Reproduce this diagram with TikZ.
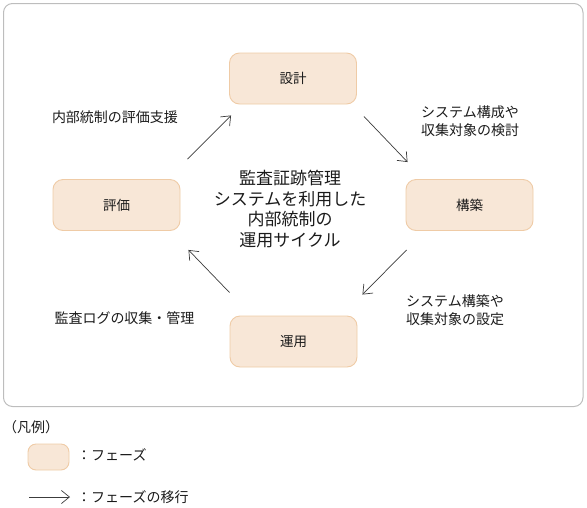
\documentclass[tikz,border=0pt]{standalone}
\usepackage{fontspec}
\setmainfont{Noto Sans CJK JP}
\usetikzlibrary{arrows.meta,calc}
\definecolor{phasefill}{HTML}{F8E7D7}
\definecolor{phaseline}{HTML}{EFCBA6}
\definecolor{framegray}{HTML}{BDBDBD}
\definecolor{txt}{HTML}{1A1A1A}
\tikzset{
  phase/.style={draw=phaseline, fill=phasefill, line width=0.9pt, rounded corners=10pt,
    minimum width=127pt, minimum height=51pt, inner sep=0pt, text=txt,
    font=\fontsize{13.5pt}{15pt}\selectfont},
  lbl/.style={inner sep=0pt, text=txt, font=\fontsize{14pt}{17.5pt}\selectfont},
  flow/.style={draw=txt!85, line width=0.7pt, -{Straight Barb[length=8pt,width=13pt,line width=0.7pt]}}
}
\begin{document}
\begin{tikzpicture}[x=1pt,y=-1pt]
\useasboundingbox (0,0) rectangle (587,507);
% outer frame
\draw[framegray, line width=1pt, rounded corners=9pt] (3.5,3.5) rectangle (583,406.5);
% phases
\node[phase] (sekkei) at (293,78.5) {設計};
\node[phase] (kouchiku) at (469.5,205) {構築};
\node[phase] (unyou) at (293.5,341.5) {運用};
\node[phase] (hyouka) at (116.5,205) {評価};
% center title
\node[inner sep=0pt, text=txt, align=center, font=\fontsize{17pt}{20.8pt}\selectfont] (title) at (290,209)
  {監査証跡管理\\システムを利用した\\内部統制の\\運用サイクル};
% arrow end points
\coordinate (a1s) at ($(hyouka.north east)+(7,-20)$);
\coordinate (a1e) at ($(sekkei.south west)+(2,11)$);
\coordinate (a2s) at ($(sekkei.south east)+(7,12)$);
\coordinate (a2e) at ($(kouchiku.north west)+(2,-17)$);
\coordinate (a3s) at ($(kouchiku.south west)+(1,19)$);
\coordinate (a3e) at ($(unyou.north east)+(5,-21)$);
\coordinate (a4s) at ($(unyou.north west)+(0,-23)$);
\coordinate (a4e) at ($(hyouka.south east)+(8,19)$);
\draw[flow] (a1s) -- (a1e);
\draw[flow] (a2s) -- (a2e);
\draw[flow] (a3s) -- (a3e);
\draw[flow] (a4s) -- (a4e);
% labels
\node[lbl] (l1) at (115,117) {内部統制の評価支援};
\node[lbl, anchor=west, align=left] (l2) at (421,121) {システム構成や\\収集対象の検討};
\node[lbl, anchor=west, align=left] (l3) at (406,310) {システム構築や\\収集対象の設定};
\node[lbl] (l4) at (124.5,318) {監査ログの収集・管理};
% legend
\node[lbl, anchor=west] (leg) at (3,427) {（凡例）};
\node[phase, minimum width=41pt, minimum height=26pt, rounded corners=8pt] (legbox) at (48.5,457) {};
\node[lbl, anchor=west] (legt1) at (77,455) {：フェーズ};
\coordinate (las) at (29,497);
\coordinate (lae) at (70,497);
\draw[flow] (las) -- (lae);
\node[lbl, anchor=west] (legt2) at (77,497) {：フェーズの移行};
\end{tikzpicture}
\end{document}
